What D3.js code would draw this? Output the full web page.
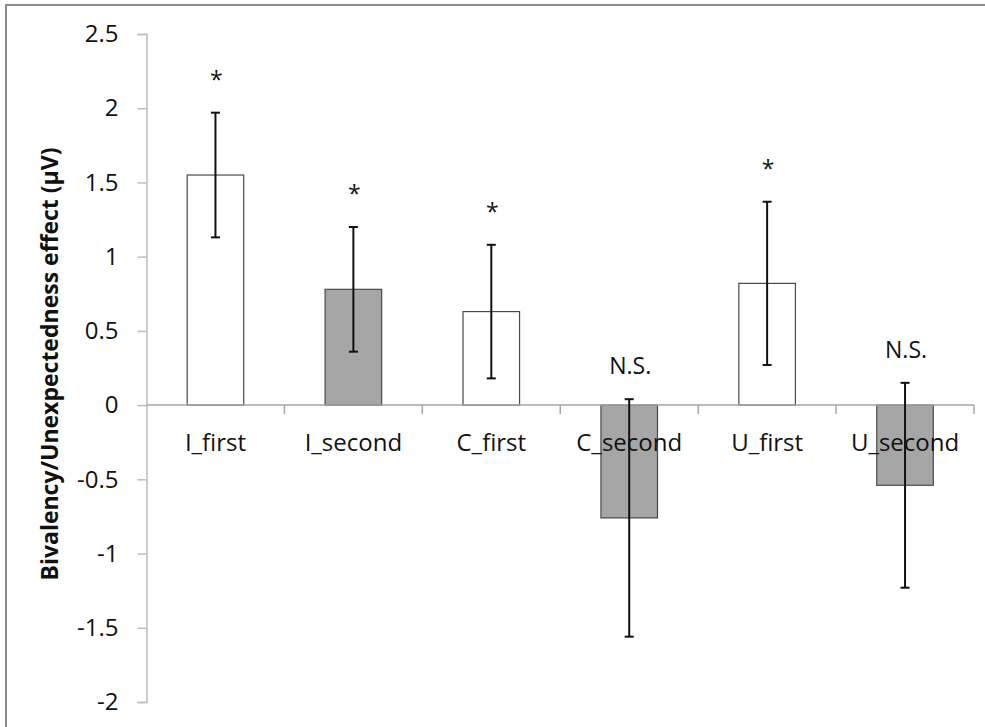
<!DOCTYPE html>
<html>
<head>
<meta charset="utf-8">
<script src="https://cdn.jsdelivr.net/npm/d3@7"></script>
<style>
  html, body { margin: 0; padding: 0; background: #fff; }
  svg { display: block; }
  text { font-family: "Open Sans", "Noto Sans", sans-serif; fill: #111; }
</style>
</head>
<body>
<svg id="chart" width="985" height="727"></svg>
<script>
// Conditions and their mean effects with error half-widths
const categories = ["I_first", "I_second", "C_first", "C_second", "U_first", "U_second"];
const means      = [1.55, 0.78, 0.63, -0.76, 0.82, -0.54];
const errors     = [0.42, 0.42, 0.45, 0.80, 0.55, 0.69];
const shaded     = [false, true, false, true, false, true];
const signif     = ["*", "*", "*", "N.S.", "*", "N.S."];
const yTicks     = [2.5, 2, 1.5, 1, 0.5, 0, -0.5, -1, -1.5, -2];
const yTitle     = "Bivalency/Unexpectedness effect (\u03bcV)";

const svg = d3.select("#chart");

// Outer frame
svg.append("rect")
  .attr("x", 6).attr("y", 5)
  .attr("width", 1100).attr("height", 1100)
  .attr("fill", "none").attr("stroke", "#8c8c8c").attr("stroke-width", 2);

const x = d3.scaleBand().domain(categories).range([146.5, 974]).padding(0);
const y = d3.scaleLinear().domain([-2, 2.5]).range([702, 34]);
const barW = x.bandwidth() * 0.41;

// Y axis
const yAxis = svg.append("g")
  .attr("transform", "translate(146.5,0)")
  .call(d3.axisLeft(y).tickValues(yTicks).tickSize(9).tickPadding(19)
    .tickFormat(d => String(d)));
yAxis.select(".domain").attr("stroke", "#bdbdbd").attr("stroke-width", 1.5);
yAxis.selectAll(".tick line").attr("stroke", "#bdbdbd").attr("stroke-width", 1.5);
yAxis.selectAll(".tick text")
  .style("font-family", "'Open Sans', sans-serif")
  .style("font-size", "24px").attr("fill", "#111");

// Bars
svg.append("g").selectAll("rect")
  .data(categories)
  .join("rect")
  .attr("x", (d) => x(d) + x.bandwidth() / 2 - barW / 2)
  .attr("y", (d, i) => y(Math.max(0, means[i])))
  .attr("width", barW)
  .attr("height", (d, i) => Math.abs(y(means[i]) - y(0)))
  .attr("fill", (d, i) => shaded[i] ? "#a6a6a6" : "#ffffff")
  .attr("stroke", "#4a4a4a").attr("stroke-width", 1.2);

// X axis (zero line with boundary ticks)
const xAxis = svg.append("g")
  .attr("transform", `translate(0,${y(0)})`);
xAxis.append("line")
  .attr("x1", 146.5).attr("x2", 974)
  .attr("stroke", "#a6a6a6").attr("stroke-width", 1.5);
const bounds = categories.map(c => x(c)).concat([x(categories[categories.length - 1]) + x.bandwidth()]);
xAxis.selectAll("line.tk")
  .data(bounds.slice(1))
  .join("line").attr("class", "tk")
  .attr("x1", d => d).attr("x2", d => d)
  .attr("y1", 0).attr("y2", 9)
  .attr("stroke", "#a6a6a6").attr("stroke-width", 1.5);

// Category labels
svg.append("g").selectAll("text")
  .data(categories)
  .join("text")
  .attr("x", d => x(d) + x.bandwidth() / 2)
  .attr("y", 451)
  .attr("text-anchor", "middle")
  .style("font-size", "24px")
  .text(d => d);

// Error bars
const eb = svg.append("g").attr("stroke", "#111").attr("stroke-width", 2);
categories.forEach((c, i) => {
  const cx = x(c) + x.bandwidth() / 2;
  const hi = y(means[i] + errors[i]);
  const lo = y(means[i] - errors[i]);
  eb.append("line").attr("x1", cx).attr("x2", cx).attr("y1", hi).attr("y2", lo);
  eb.append("line").attr("x1", cx - 4.5).attr("x2", cx + 4.5).attr("y1", hi).attr("y2", hi);
  eb.append("line").attr("x1", cx - 4.5).attr("x2", cx + 4.5).attr("y1", lo).attr("y2", lo);
});

// Significance marks above each error bar
svg.append("g").selectAll("text")
  .data(categories)
  .join("text")
  .attr("x", d => x(d) + x.bandwidth() / 2 + 1)
  .attr("y", (d, i) => y(means[i] + errors[i]) - 25)
  .attr("text-anchor", "middle")
  .style("font-size", "23px")
  .text((d, i) => signif[i]);

// Y axis title
svg.append("text")
  .attr("transform", "translate(58,364) rotate(-90)")
  .attr("text-anchor", "middle")
  .style("font-size", "23px")
  .style("font-weight", "bold")
  .text(yTitle);
</script>
</body>
</html>
